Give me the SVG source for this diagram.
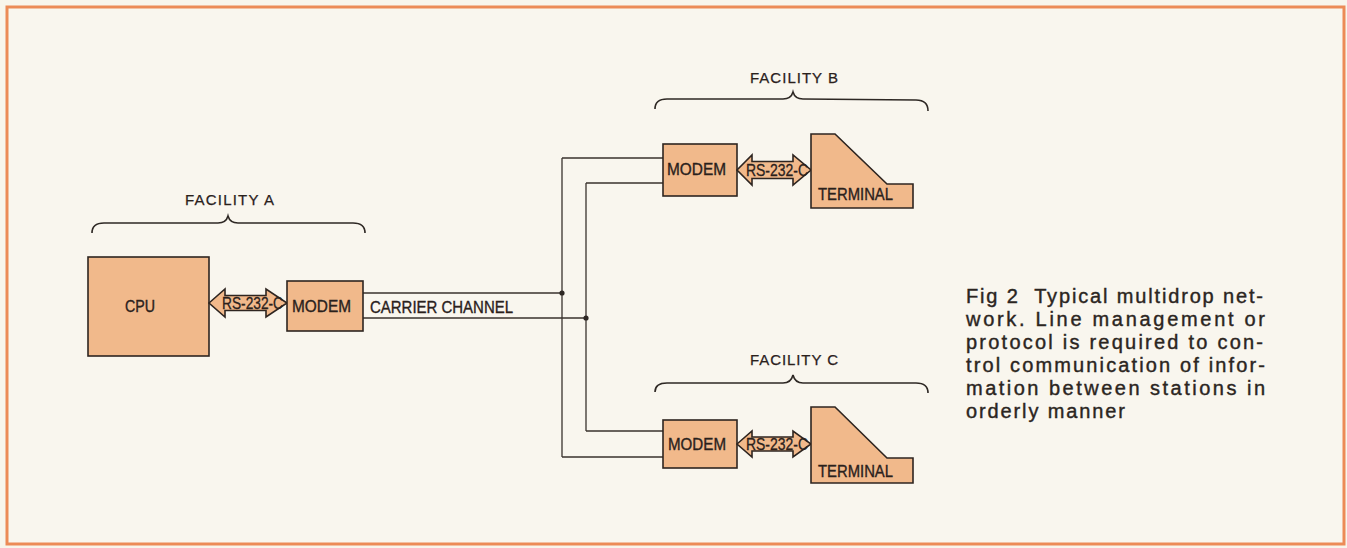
<svg xmlns="http://www.w3.org/2000/svg" width="1347" height="548" viewBox="0 0 1347 548">
<style>
.box{fill:#f1b98b;stroke:#2e2520;stroke-width:1.6;stroke-linejoin:miter}
.lbl{font-family:"Liberation Sans",Arial,sans-serif;font-size:16.5px;fill:#2a211c;stroke:#2a211c;stroke-width:0.35}
.fac{font-family:"Liberation Sans",Arial,sans-serif;font-size:15px;fill:#2a211c;stroke:#2a211c;stroke-width:0.25}
.rs{font-family:"Liberation Sans",Arial,sans-serif;font-size:16px;fill:#2a211c;stroke:#2a211c;stroke-width:0.3}
.cap{font-family:"Liberation Sans",Arial,sans-serif;font-size:20px;fill:#2b2521;stroke:#2b2521;stroke-width:0.4}
.wire{fill:none;stroke:#3a332e;stroke-width:1.3}
.brace{fill:none;stroke:#2e2824;stroke-width:1.6}
</style>
<rect x="0" y="0" width="1347" height="548" fill="#f8f5ec"/>
<rect x="7" y="7" width="1337" height="537" fill="#f9f6ee" stroke="#ec8b57" stroke-width="3"/>

<g id="connectors">
  <path class="wire" d="M363,293 H562 M562,158 V457 M562,158 H663 M562,457 H663"/>
  <path class="wire" d="M363,318 H586 M586,183 V431 M586,183 H663 M586,431 H663"/>
  <circle cx="562" cy="293" r="2.6" fill="#2e2824"/>
  <circle cx="586" cy="318" r="2.6" fill="#2e2824"/>
  <text class="lbl" x="370" y="313" textLength="143" lengthAdjust="spacingAndGlyphs">CARRIER CHANNEL</text>
</g>

<g id="facility-a">
  <path class="brace" d="M92,233 Q92,223 104,223 L218,223 Q226,223 228,216 Q230,223 238,223 L353,223 Q365,223 365,233"/>
  <text class="fac" x="185" y="205" textLength="89" lengthAdjust="spacing">FACILITY A</text>
</g>
<g id="cpu">
  <rect class="box" x="88" y="257" width="121" height="99"/>
  <text class="lbl" x="125" y="312" textLength="30" lengthAdjust="spacingAndGlyphs">CPU</text>
</g>
<g id="rs232-a">
  <path class="box" d="M209,303 L225,289 V295.5 H266 V289 L287,303 L266,317 V310.5 H225 V317 Z"/>
  <text class="rs" x="222" y="309" textLength="61" lengthAdjust="spacingAndGlyphs">RS-232-C</text>
</g>
<g id="modem-a">
  <rect class="box" x="287" y="281" width="76" height="50"/>
  <text class="lbl" x="292" y="312" textLength="59" lengthAdjust="spacingAndGlyphs">MODEM</text>
</g>

<g id="facility-b">
  <path class="brace" d="M655,109 Q655,99 667,99 L783,99 Q791,99 793,92 Q795,99 803,99 L916,100 Q928,100 928,111"/>
  <text class="fac" x="750" y="83" textLength="88" lengthAdjust="spacing">FACILITY B</text>
</g>
<g id="modem-b">
  <rect class="box" x="663" y="144" width="74" height="52"/>
  <text class="lbl" x="667" y="175" textLength="59" lengthAdjust="spacingAndGlyphs">MODEM</text>
</g>
<g id="rs232-b">
  <path class="box" d="M737,170 L752,155 V161.5 H793 V155 L811,170 L793,185 V178.5 H752 V185 Z"/>
  <text class="rs" x="746" y="176" textLength="62" lengthAdjust="spacingAndGlyphs">RS-232-C</text>
</g>
<g id="terminal-b">
  <path class="box" d="M811,134 H835 L887,184 H913 V208 H811 Z"/>
  <text class="lbl" x="818" y="200" textLength="75" lengthAdjust="spacingAndGlyphs">TERMINAL</text>
</g>

<g id="facility-c">
  <path class="brace" d="M655,392 Q655,383 667,383 L783,383 Q791,383 793,375 Q795,383 803,383 L916,383 Q928,383 928,393"/>
  <text class="fac" x="750" y="365" textLength="88" lengthAdjust="spacing">FACILITY C</text>
</g>
<g id="modem-c">
  <rect class="box" x="663" y="420" width="74" height="48"/>
  <text class="lbl" x="668" y="450" textLength="58" lengthAdjust="spacingAndGlyphs">MODEM</text>
</g>
<g id="rs232-c">
  <path class="box" d="M737,444 L752,431 V437 H793 V431 L811,444 L793,457 V451 H752 V457 Z"/>
  <text class="rs" x="746" y="450" textLength="62" lengthAdjust="spacingAndGlyphs">RS-232-C</text>
</g>
<g id="terminal-c">
  <path class="box" d="M811,407 H835 L887,458 H913 V483 H811 Z"/>
  <text class="lbl" x="818" y="477" textLength="75" lengthAdjust="spacingAndGlyphs">TERMINAL</text>
</g>

<g id="caption">
  <text class="cap" x="966" y="303" textLength="297" lengthAdjust="spacing">Fig 2&#160; Typical multidrop net-</text>
  <text class="cap" x="966" y="326" textLength="299" lengthAdjust="spacing">work. Line management or</text>
  <text class="cap" x="966" y="349" textLength="297" lengthAdjust="spacing">protocol is required to con-</text>
  <text class="cap" x="966" y="372" textLength="299" lengthAdjust="spacing">trol communication of infor-</text>
  <text class="cap" x="966" y="395" textLength="299" lengthAdjust="spacing">mation between stations in</text>
  <text class="cap" x="966" y="418" textLength="159" lengthAdjust="spacing">orderly manner</text>
</g>
</svg>
